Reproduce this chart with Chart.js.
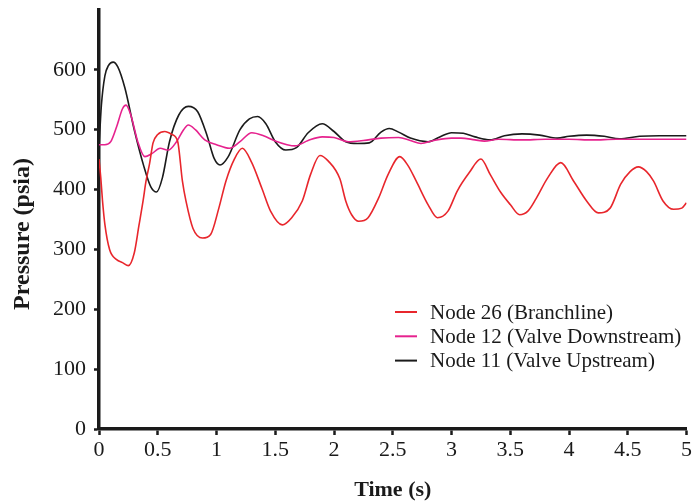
<!DOCTYPE html>
<html>
<head>
<meta charset="utf-8">
<script src="https://cdn.jsdelivr.net/npm/chart.js@4.4.1/dist/chart.umd.min.js"></script>
<style>
  body { margin: 0; background: #fff; }
  #wrap { width: 694px; height: 504px; position: relative; }
</style>
</head>
<body>
<div id="wrap"><canvas id="pressureChart"></canvas></div>
<script>
// Node 26 (Branchline)
const node26Time = [0, 0.015, 0.03, 0.05, 0.09, 0.15, 0.2, 0.25, 0.3, 0.34, 0.375, 0.4, 0.43, 0.46, 0.5, 0.56, 0.62, 0.67, 0.71, 0.74, 0.8, 0.88, 0.95, 1.02, 1.08, 1.15, 1.22, 1.3, 1.39, 1.46, 1.56, 1.64, 1.73, 1.8, 1.88, 1.95, 2.05, 2.1, 2.15, 2.21, 2.29, 2.38, 2.46, 2.56, 2.63, 2.7, 2.8, 2.88, 2.97, 3.05, 3.15, 3.25, 3.33, 3.42, 3.5, 3.58, 3.65, 3.72, 3.82, 3.93, 4.04, 4.15, 4.25, 4.35, 4.44, 4.52, 4.59, 4.66, 4.72, 4.8, 4.89, 4.96, 5.0];
const node26Pressure = [451, 420, 381, 342, 300, 283, 278, 273, 294, 340, 381, 414, 443, 478, 492, 497, 492, 480, 414, 381, 335, 319, 325, 369, 414, 450, 469, 445, 400, 364, 341, 353, 381, 425, 457, 448, 418, 381, 358, 347, 353, 386, 425, 455, 440, 414, 375, 353, 364, 398, 428, 451, 425, 395, 375, 358, 364, 385, 420, 445, 414, 381, 361, 369, 409, 430, 438, 430, 414, 381, 367, 369, 378];

// Node 12 (Valve Downstream)
const node12Time = [0, 0.05, 0.1, 0.15, 0.2, 0.23, 0.27, 0.33, 0.39, 0.45, 0.52, 0.59, 0.66, 0.72, 0.76, 0.82, 0.9, 1.0, 1.11, 1.2, 1.3, 1.4, 1.5, 1.6, 1.67, 1.78, 1.9, 2.0, 2.12, 2.25, 2.4, 2.55, 2.65, 2.74, 2.85, 3.0, 3.08, 3.2, 3.28, 3.4, 3.6, 3.8, 4.0, 4.2, 4.4, 4.6, 4.8, 5.0];
const node12Pressure = [475, 475, 480, 505, 535, 541, 525, 480, 455, 460, 469, 466, 480, 500, 508, 500, 483, 475, 469, 480, 495, 490, 481, 475, 473, 482, 488, 487, 480, 482, 486, 487, 482, 477, 482, 486, 486, 483, 481, 484, 483, 484, 484, 483, 484, 484, 484, 484];

// Node 11 (Valve Upstream)
const node11Time = [0, 0.02, 0.05, 0.08, 0.12, 0.16, 0.22, 0.3, 0.38, 0.44, 0.49, 0.54, 0.6, 0.68, 0.76, 0.84, 0.92, 0.98, 1.03, 1.1, 1.2, 1.28, 1.35, 1.42, 1.5, 1.59, 1.68, 1.78, 1.9, 2.0, 2.1, 2.2, 2.3, 2.4, 2.47, 2.55, 2.65, 2.8, 2.9, 3.0, 3.1, 3.2, 3.33, 3.45, 3.6, 3.75, 3.9, 4.0, 4.15, 4.3, 4.43, 4.6, 4.77, 4.9, 5.0];
const node11Pressure = [470, 540, 590, 607, 613, 605, 570, 500, 440, 405, 396, 420, 480, 525, 539, 530, 490, 452, 441, 455, 500, 518, 522, 510, 480, 466, 470, 495, 510, 497, 480, 477, 478, 496, 502, 496, 486, 480, 488, 495, 494, 488, 483, 490, 493, 491, 486, 489, 491, 489, 485, 489, 490, 490, 490];

const seriesLabels = ['Node 26 (Branchline)', 'Node 12 (Valve Downstream)', 'Node 11 (Valve Upstream)'];
const seriesColors = ['#e8262c', '#e6228e', '#1b1b1b'];

const serif = '"Liberation Serif", "Times New Roman", serif';

function toPoints(xs, ys) {
    return xs.map((x, i) => ({ x: x, y: ys[i] }));
}

// legend inside the plot (lower right) + y axis title
const chartExtras = {
    id: 'chartExtras',
    afterDraw(chart) {
        const c = chart.ctx;
        c.save();
        c.font = '21px ' + serif;
        c.textBaseline = 'middle';
        c.fillStyle = '#1a1a1a';
        chart.data.datasets.forEach((ds, i) => {
            const y = 312 + i * 24.3;
            c.strokeStyle = ds.borderColor;
            c.lineWidth = 2;
            c.beginPath();
            c.moveTo(395, y);
            c.lineTo(417, y);
            c.stroke();
            c.fillText(ds.label, 430, y + 1);
        });

        c.translate(29, 234);
        c.rotate(-Math.PI / 2);
        c.font = 'bold 24px ' + serif;
        c.textAlign = 'center';
        c.textBaseline = 'alphabetic';
        c.fillText('Pressure (psia)', 0, 0);
        c.restore();
    }
};

const ctx = document.getElementById('pressureChart').getContext('2d');
const pressureChart = new Chart(ctx, {
    type: 'line',
    data: {
        datasets: [
            { label: seriesLabels[0], data: toPoints(node26Time, node26Pressure), borderColor: seriesColors[0] },
            { label: seriesLabels[1], data: toPoints(node12Time, node12Pressure), borderColor: seriesColors[1] },
            { label: seriesLabels[2], data: toPoints(node11Time, node11Pressure), borderColor: seriesColors[2] }
        ]
    },
    options: {
        responsive: true,
        maintainAspectRatio: false,
        animation: false,
        layout: {
            padding: { top: 10, right: 0, left: 0, bottom: 0 }
        },
        datasets: {
            line: {
                borderWidth: 1.6,
                pointRadius: 0,
                cubicInterpolationMode: 'monotone',
                fill: false
            }
        },
        plugins: {
            legend: { display: false },
            tooltip: { enabled: false }
        },
        scales: {
            x: {
                type: 'linear',
                min: 0,
                max: 5,
                afterFit: (s) => { s.height = 75; },
                ticks: {
                    stepSize: 0.5,
                    color: '#1a1a1a',
                    padding: 2,
                    maxRotation: 0,
                    font: { family: serif, size: 22 },
                    callback: (v) => String(Number(v.toFixed(1)))
                },
                grid: {
                    drawOnChartArea: false,
                    drawTicks: true,
                    tickLength: 6,
                    tickColor: '#1a1a1a',
                    tickWidth: 2.5
                },
                border: { color: '#1a1a1a', width: 3.5 },
                title: {
                    display: true,
                    text: 'Time (s)',
                    color: '#1a1a1a',
                    font: { family: serif, size: 22, weight: 'bold' },
                    padding: { top: 12, bottom: 0 }
                }
            },
            y: {
                min: 0,
                max: 700,
                afterFit: (s) => { s.width = 99; s.paddingTop = 0; },
                afterBuildTicks: (s) => { s.ticks = s.ticks.filter(t => t.value <= 600); },
                ticks: {
                    stepSize: 100,
                    color: '#1a1a1a',
                    padding: 8,
                    font: { family: serif, size: 22 }
                },
                grid: {
                    drawOnChartArea: false,
                    drawTicks: true,
                    tickLength: 5,
                    tickColor: '#1a1a1a',
                    tickWidth: 2.5
                },
                border: { color: '#1a1a1a', width: 3.5 }
            }
        }
    },
    plugins: [chartExtras]
});
</script>
</body>
</html>
